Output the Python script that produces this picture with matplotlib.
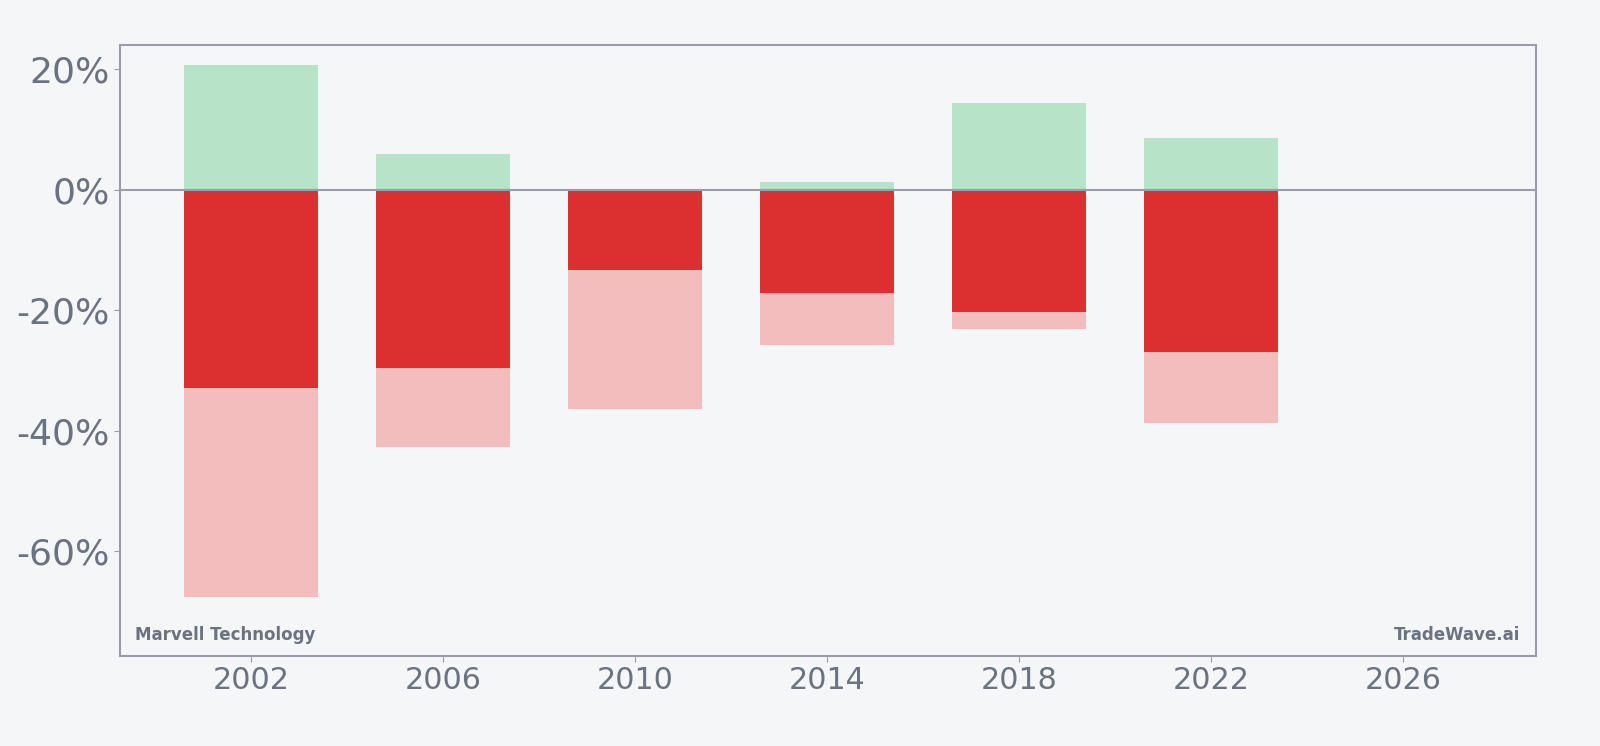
import numpy as np
import matplotlib.pyplot as plt
from matplotlib.ticker import FuncFormatter

years = [2002, 2006, 2010, 2014, 2018, 2022]
gain = [20.8, 5.9, 0.0, 1.4, 14.4, 8.6]
close_drop = [-32.9, -29.5, -13.2, -17.1, -20.2, -26.9]
max_drop = [-67.5, -42.7, -36.3, -25.8, -23.1, -38.6]

bg = '#f4f6f8'
txt = '#6b7280'
edge = '#9a9cab'

fig = plt.figure(figsize=(16, 7.46), dpi=100, facecolor=bg)
ax = fig.add_axes([0.0753, 0.121, 0.8845, 0.819])
ax.set_facecolor(bg)

w = 2.8
ax.bar(years, max_drop, width=w, color='#f3bdbd', zorder=2)
ax.bar(years, close_drop, width=w, color='#dc3030', zorder=3)
ax.bar(years, gain, width=w, color='#b7e3c9', zorder=3)
ax.axhline(0, color=edge, lw=1.5, zorder=4)

ax.set_xlim(1999.28, 2028.76)
ax.set_ylim(-77.3, 24.1)
ax.set_xticks(np.arange(2002, 2027, 4))
ax.set_yticks([20, 0, -20, -40, -60])
ax.yaxis.set_major_formatter(FuncFormatter(lambda v, p: f'{v:.0f}%'))
ax.tick_params(axis='y', labelsize=26, colors=txt, color=edge, length=4)
ax.tick_params(axis='x', labelsize=21.7, colors=txt, color=edge, length=4)
for s in ax.spines.values():
    s.set_color(edge)
    s.set_linewidth(1.5)

ax.text(0.01, 0.02, 'Marvell Technology', transform=ax.transAxes, fontsize=12,
        fontweight='bold', color=txt, ha='left', va='bottom')
ax.text(0.989, 0.02, 'TradeWave.ai', transform=ax.transAxes, fontsize=12,
        fontweight='bold', color=txt, ha='right', va='bottom')

plt.savefig('out.png', dpi=100, facecolor=bg)
